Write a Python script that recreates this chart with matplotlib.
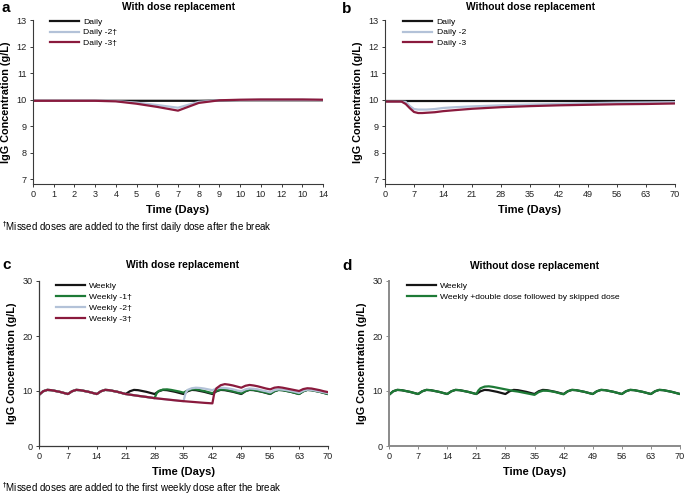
import matplotlib
matplotlib.use("Agg")
import matplotlib.pyplot as plt

plt.rcParams['font.family'] = ['Liberation Sans', 'DejaVu Sans']

# ---------------- data ----------------
# Panel a (days 0-14)
a_days = [0, 1, 2, 3, 4, 5, 6, 7, 8, 9, 10, 11, 12, 13, 14]
a_xticklabels = ["0", "1", "2", "3", "4", "5", "6", "7", "8", "9", "10", "10", "12", "10", "14"]
a_daily = [9.96, 9.96, 9.96, 9.96, 9.96, 9.96, 9.96, 9.96, 9.96, 9.97, 9.98, 9.98, 9.98, 9.98, 9.98]
a_daily2 = [9.96, 9.96, 9.96, 9.96, 9.95, 9.89, 9.80, 9.70, 9.92, 9.98, 9.99, 10.0, 10.0, 10.0, 9.99]
a_daily3 = [9.96, 9.96, 9.96, 9.96, 9.94, 9.85, 9.73, 9.59, 9.88, 9.98, 10.0, 10.01, 10.01, 10.01, 10.0]

# Panel b (days 0-70)
b_days = [0, 4, 5, 6, 7, 8, 9, 10, 12, 14, 17, 21, 28, 35, 42, 49, 56, 63, 70]
b_daily = [9.94] * 19
b_daily2 = [9.93, 9.93, 9.92, 9.76, 9.65, 9.63, 9.63, 9.63, 9.65, 9.69, 9.72, 9.75, 9.79, 9.82, 9.84, 9.87, 9.89, 9.90, 9.91]
b_daily3 = [9.93, 9.93, 9.84, 9.68, 9.54, 9.50, 9.50, 9.51, 9.53, 9.57, 9.61, 9.66, 9.72, 9.76, 9.79, 9.81, 9.83, 9.84, 9.86]

# Weekly dosing (days 0-70)
w_days = [0, 1, 2, 3, 4, 5, 6, 7, 8, 9, 10, 11, 12, 13, 14, 15, 16, 17, 18, 19, 20,
          21, 22, 23, 24, 25, 26, 27, 28, 29, 30, 31, 32, 33, 34, 35, 36, 37, 38, 39, 40,
          41, 42, 43, 44, 45, 46, 47, 48, 49, 50, 51, 52, 53, 54, 55, 56, 57, 58, 59, 60,
          61, 62, 63, 64, 65, 66, 67, 68, 69, 70]
w_weekly = [9.30, 9.95, 10.20, 10.15, 10.00, 9.85, 9.65,
            9.45, 9.95, 10.20, 10.15, 10.00, 9.85, 9.65,
            9.45, 9.95, 10.20, 10.15, 10.00, 9.85, 9.65,
            9.45, 9.95, 10.20, 10.15, 10.00, 9.85, 9.65,
            9.45, 9.95, 10.20, 10.15, 10.00, 9.85, 9.65,
            9.45, 9.95, 10.20, 10.15, 10.00, 9.85, 9.65,
            9.45, 9.95, 10.20, 10.15, 10.00, 9.85, 9.65,
            9.45, 9.95, 10.20, 10.15, 10.00, 9.85, 9.65,
            9.45, 9.95, 10.20, 10.15, 10.00, 9.85, 9.65,
            9.45, 9.95, 10.20, 10.15, 10.00, 9.85, 9.65,
            9.45]

# Panel c: missed doses from day 21, replaced at first dose after the break
c_w1_days = [22, 23, 24, 25, 26, 27, 28, 28.5, 29, 30, 31, 32, 33, 34, 35, 36, 37, 38, 39, 40,
             41, 42, 43, 44, 45, 46, 47, 48, 49, 50, 51, 52, 53, 54, 55, 56, 57, 58, 59, 60,
             61, 62, 63, 64, 65, 66, 67, 68, 69, 70]
c_w1 = [9.34, 9.23, 9.12, 9.02, 8.92, 8.81, 8.70, 9.60, 10.00, 10.25, 10.30, 10.20, 10.05, 9.90,
        9.70, 10.10, 10.30, 10.30, 10.15, 10.00, 9.80, 9.60, 10.05, 10.25, 10.25, 10.10, 9.95,
        9.75, 9.55, 10.00, 10.25, 10.20, 10.05, 9.90, 9.70, 9.50, 9.95, 10.20, 10.15, 10.00,
        9.85, 9.65, 9.45, 9.95, 10.20, 10.15, 10.00, 9.85, 9.65, 9.45]
c_w2_days = [22, 23, 24, 25, 26, 27, 28, 29, 30, 31, 32, 33, 34, 35, 35.5, 36, 37, 38, 39, 40,
             41, 42, 43, 44, 45, 46, 47, 48, 49, 50, 51, 52, 53, 54, 55, 56, 57, 58, 59, 60,
             61, 62, 63, 64, 65, 66, 67, 68, 69, 70]
c_w2 = [9.34, 9.23, 9.12, 9.02, 8.92, 8.81, 8.70, 8.62, 8.54, 8.46, 8.38, 8.30, 8.22, 8.15,
        9.60, 10.20, 10.50, 10.60, 10.55, 10.45, 10.30, 10.15, 10.45, 10.60, 10.55, 10.45,
        10.30, 10.10, 9.95, 10.30, 10.45, 10.40, 10.30, 10.10, 9.95, 9.75, 10.15, 10.30,
        10.25, 10.15, 10.00, 9.85, 9.65, 10.05, 10.25, 10.20, 10.05, 9.90, 9.75, 9.60]
c_w3_days = [22, 23, 24, 25, 26, 27, 28, 29, 30, 31, 32, 33, 34, 35, 36, 37, 38, 39, 40,
             41, 42, 42.5, 43, 44, 45, 46, 47, 48, 49, 50, 51, 52, 53, 54, 55, 56, 57, 58, 59, 60,
             61, 62, 63, 64, 65, 66, 67, 68, 69, 70]
c_w3 = [9.34, 9.23, 9.12, 9.02, 8.92, 8.81, 8.70, 8.62, 8.54, 8.46, 8.38, 8.30, 8.22, 8.15,
        8.09, 8.03, 7.97, 7.91, 7.85, 7.80, 7.75, 9.80, 10.50, 11.05, 11.25, 11.15, 11.00,
        10.80, 10.60, 10.95, 11.10, 11.00, 10.85, 10.65, 10.45, 10.30, 10.60, 10.70, 10.60,
        10.45, 10.30, 10.15, 10.00, 10.35, 10.50, 10.45, 10.30, 10.15, 9.95, 9.80]

# Panel d: double dose at day 21 followed by skipped dose at day 28
d_dbl_days = [21.5, 22, 23, 24, 25, 26, 27, 28, 29, 30, 31, 32, 33, 34, 35, 36, 37, 38, 39, 40,
              41, 42]
d_dbl = [10.10, 10.50, 10.80, 10.85, 10.75, 10.60, 10.45, 10.30, 10.15, 10.00, 9.90, 9.75,
         9.60, 9.45, 9.30, 9.80, 10.05, 10.05, 9.95, 9.80, 9.60, 9.40]

# ---------------- styles ----------------
BLACK = "#151515"
BLUE = "#b3c2d8"
GREEN = "#1d7a36"
RED = "#8a1a3d"
LW = 1.6

fig = plt.figure(figsize=(6.85, 4.96), dpi=100)


def rect(l, r, top, bot):
    W, H = 685.0, 496.0
    return [l / W, 1 - bot / H, (r - l) / W, (bot - top) / H]


def style(ax, col="#3a3a3a", lw=0.8):
    for s in ("top", "right"):
        ax.spines[s].set_visible(False)
    for s in ("left", "bottom"):
        ax.spines[s].set_color(col)
        ax.spines[s].set_linewidth(lw)
    ax.tick_params(direction="out", length=2.5, width=0.7, colors=col,
                   labelsize=6.6, labelcolor="#222222", pad=2)


def leg(ax, x, y):
    ax.legend(loc="upper left", bbox_to_anchor=(x, y), frameon=False, fontsize=6.1,
              handlelength=3.4, handletextpad=0.5, labelspacing=0.35, borderaxespad=0)


ylab = "IgG Concentration (g/L)"
xlab = "Time (Days)"

# Panel a
axa = fig.add_axes(rect(33, 323, 20, 184))
axa.plot(a_days, a_daily, color=BLACK, lw=LW, label="Daily")
axa.plot(a_days, a_daily2, color=BLUE, lw=LW, label="Daily -2\u2020")
axa.plot(a_days, a_daily3, color=RED, lw=LW, label="Daily -3\u2020")
axa.set_xlim(0, 14)
axa.set_ylim(6.83, 13)
axa.set_xticks(a_days)
axa.set_xticklabels(a_xticklabels)
axa.set_yticks([7, 8, 9, 10, 11, 12, 13])
style(axa)
leg(axa, 0.048, 1.035)

# Panel b
axb = fig.add_axes(rect(385, 675, 20, 184))
axb.plot(b_days, b_daily, color=BLACK, lw=LW, label="Daily")
axb.plot(b_days, b_daily2, color=BLUE, lw=LW, label="Daily -2")
axb.plot(b_days, b_daily3, color=RED, lw=LW, label="Daily -3")
axb.set_xlim(0, 70)
axb.set_ylim(6.83, 13)
axb.set_xticks(range(0, 71, 7))
axb.set_yticks([7, 8, 9, 10, 11, 12, 13])
style(axb)
leg(axb, 0.052, 1.035)

# Panel c
axc = fig.add_axes(rect(39, 328, 281, 446))
axc.plot(w_days, w_weekly, color=BLACK, lw=LW, label="Weekly")
axc.plot(w_days[:22] + c_w1_days, w_weekly[:22] + c_w1, color=GREEN, lw=LW,
         label="Weekly -1\u2020")
axc.plot(w_days[:22] + c_w2_days, w_weekly[:22] + c_w2, color=BLUE, lw=LW,
         label="Weekly -2\u2020")
axc.plot(w_days[:22] + c_w3_days, w_weekly[:22] + c_w3, color=RED, lw=LW,
         label="Weekly -3\u2020")
axc.set_xlim(0, 70)
axc.set_ylim(0, 30)
axc.set_xticks(range(0, 71, 7))
axc.set_yticks([0, 10, 20, 30])
style(axc, "#3a3a3a", 0.9)
leg(axc, 0.048, 1.015)

# Panel d
axd = fig.add_axes(rect(389, 680, 281, 446))
axd.plot(w_days, w_weekly, color=BLACK, lw=LW, label="Weekly")
axd.plot(w_days[:22] + d_dbl_days + w_days[43:], w_weekly[:22] + d_dbl + w_weekly[43:],
         color=GREEN, lw=LW, label="Weekly +double dose followed by skipped dose")
axd.set_xlim(0, 70)
axd.set_ylim(0, 30)
axd.set_xticks(range(0, 71, 7))
axd.set_yticks([0, 10, 20, 30])
style(axd, "#8a8a8a", 1.4)
leg(axd, 0.05, 1.015)

# Labels
for ax in (axa, axb, axc, axd):
    ax.set_xlabel(xlab, fontsize=8, fontweight="bold", labelpad=4)
    ax.set_ylabel(ylab, fontsize=7.8, fontweight="bold", labelpad=4)


def ftxt(x, y, s, **kw):
    fig.text(x / 685.0, 1 - y / 496.0, s, **kw)


ftxt(178, 7, "With dose replacement", ha="center", va="center", fontsize=7.4, fontweight="bold")
ftxt(530, 7, "Without dose replacement", ha="center", va="center", fontsize=7.4, fontweight="bold")
ftxt(183, 265, "With dose replacement", ha="center", va="center", fontsize=7.4, fontweight="bold")
ftxt(535, 266, "Without dose replacement", ha="center", va="center", fontsize=7.4, fontweight="bold")

ftxt(2, 8, "a", ha="left", va="center", fontsize=11, fontweight="bold")
ftxt(342, 9, "b", ha="left", va="center", fontsize=11, fontweight="bold")
ftxt(2, 265, "c", ha="left", va="center", fontsize=11, fontweight="bold")
ftxt(342, 266, "d", ha="left", va="center", fontsize=11, fontweight="bold")

ftxt(2, 227, "$^{\\dagger}$Missed doses are added to the first daily dose after the break",
     ha="left", va="center", fontsize=7.0)
ftxt(2, 488, "$^{\\dagger}$Missed doses are added to the first weekly dose after the break",
     ha="left", va="center", fontsize=7.0)

fig.savefig("out.png", dpi=100)
